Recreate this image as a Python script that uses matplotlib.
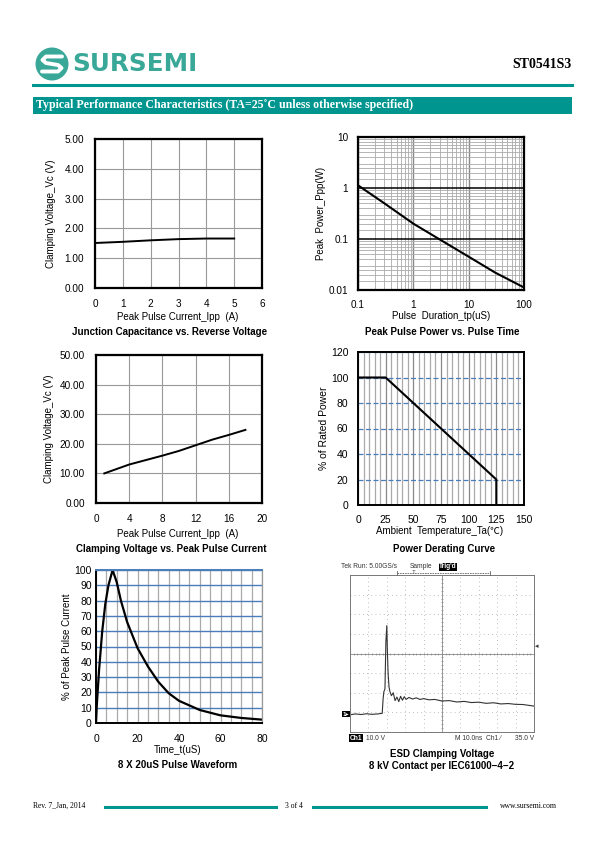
import matplotlib
matplotlib.use("Agg")
import matplotlib.pyplot as plt
from matplotlib.patches import Rectangle, Ellipse
from matplotlib.lines import Line2D
from matplotlib.ticker import FixedLocator, FixedFormatter, NullFormatter, LogLocator

plt.rcParams['font.family'] = ['Liberation Sans', 'Noto Sans CJK SC', 'DejaVu Sans']

# ---------------- data ----------------
c1_ipp = [0, 1, 2, 3, 4, 5]
c1_vc = [1.51, 1.55, 1.60, 1.64, 1.66, 1.66]
c1_xticks = [0, 1, 2, 3, 4, 5, 6]
c1_yticks = [0, 1, 2, 3, 4, 5]

c2_tp = [0.1, 0.3, 1, 3, 10, 30, 100]
c2_ppp = [1.13, 0.50, 0.20, 0.098, 0.045, 0.022, 0.0112]
c2_xticks = [0.1, 1, 10, 100]
c2_xlabels = ["0.1", "1", "10", "100"]
c2_yticks = [0.01, 0.1, 1, 10]
c2_ylabels = ["0.01", "0.1", "1", "10"]

c3_ipp = [1, 2, 4, 6, 8, 10, 12, 14, 16, 18]
c3_vc = [10.0, 11.0, 13.0, 14.5, 16.0, 17.6, 19.5, 21.4, 23.0, 24.7]
c3_xticks = [0, 4, 8, 12, 16, 20]
c3_yticks = [0, 10, 20, 30, 40, 50]

c4_ta = [0, 25, 125, 125]
c4_pct = [100, 100, 20, 0]
c4_xticks = [0, 25, 50, 75, 100, 125, 150]
c4_yticks = [0, 20, 40, 60, 80, 100, 120]

c5_t = [0, 0.4, 1.5, 3, 4.5, 6, 8, 10, 12, 15, 20, 25, 30, 35, 40, 50, 60, 70, 80]
c5_pct = [0, 12, 35, 60, 78, 90, 100, 92, 80, 66, 49, 37, 27, 19.5, 14.5, 8.5, 5.0, 3.3, 2.2]
c5_xticks = [0, 20, 40, 60, 80]
c5_yticks = [0, 10, 20, 30, 40, 50, 60, 70, 80, 90, 100]

scope_t = [0, 0.3, 0.6, 0.9, 1.2, 1.5, 1.75, 1.8, 1.84, 1.9, 1.95, 2.0, 2.03, 2.07, 2.12, 2.17,
           2.25, 2.35, 2.45, 2.55, 2.65, 2.75, 2.85, 2.95, 3.05, 3.2, 3.4, 3.6, 3.8, 4.0,
           4.3, 4.6, 5.0, 5.4, 5.8, 6.2, 6.6, 7.0, 7.4, 7.8, 8.2, 8.6, 9.0, 9.4, 9.7, 10.0]
scope_v = [0.88, 0.92, 0.89, 0.93, 0.9, 0.92, 0.95, 1.7, 2.05, 2.2, 4.6, 5.42, 4.2, 3.0, 2.3, 2.06,
           1.85, 2.0, 1.6, 1.78, 1.55, 1.82, 1.62, 1.8, 1.66, 1.76, 1.68, 1.74, 1.66, 1.7,
           1.64, 1.66, 1.58, 1.6, 1.53, 1.56, 1.5, 1.52, 1.46, 1.49, 1.43, 1.45, 1.41, 1.40, 1.36, 1.32]

TEAL = "#00968f"
LOGO = "#3aa898"
BLUE = "#4a7ebb"

W, H = 595, 842
fig = plt.figure(figsize=(W / 100, H / 100), dpi=100)


def ax_px(l, t, r, b):
    return fig.add_axes([l / W, 1 - b / H, (r - l) / W, (b - t) / H])


def txt(x, y, s, **kw):
    kw.setdefault("va", "center")
    return fig.text(x / W, 1 - y / H, s, **kw)


def fx(x):
    return x / W


def fy(y):
    return 1 - y / H


# ---------------- header ----------------
fig.add_artist(Ellipse((fx(52), fy(64)), 33 / W, 33 / H, transform=fig.transFigure,
                       facecolor=LOGO, edgecolor="none"))
# stylised S in logo
sx = [62, 46, 42.5, 46, 58, 61.5, 58, 42]
sy = [56.5, 56.5, 60, 63, 65, 68, 71.5, 71.5]
fig.add_artist(Line2D([fx(v) for v in sx], [fy(v) for v in sy], transform=fig.transFigure,
                      color="white", lw=2.8, solid_capstyle="round", solid_joinstyle="round"))
txt(72, 64, "SURSEMI", ha="left", fontsize=17.8, fontweight="bold", color=LOGO,
    family=["DejaVu Sans"])
txt(572, 64, "ST0541S3", ha="right", fontsize=10, fontweight="bold",
    family=["Liberation Serif"], color="black")
fig.add_artist(Line2D([fx(33), fx(572)], [fy(85), fy(85)], transform=fig.transFigure,
                      color=TEAL, lw=2.2))
fig.add_artist(Rectangle((fx(33), fy(113.5)), (572 - 33) / W, 17 / H, transform=fig.transFigure,
                         facecolor=TEAL, edgecolor="none"))
txt(36, 105, "Typical Performance Characteristics (TA=25\u02daC unless otherwise specified)",
    ha="left", fontsize=8.6, fontweight="bold", family=["Liberation Serif", "DejaVu Serif"],
    color="white")

# ---------------- footer ----------------
txt(33, 806, "Rev. 7_Jan, 2014", ha="left", fontsize=5.5, family=["Liberation Serif"])
txt(294, 806, "3 of 4", ha="center", fontsize=5.5, family=["Liberation Serif"])
txt(557, 806, "www.sursemi.com", ha="right", fontsize=5.5, family=["Liberation Serif"])
for a, b in [(105, 276), (313, 486)]:
    fig.add_artist(Line2D([fx(a), fx(b)], [fy(807), fy(807)], transform=fig.transFigure,
                          color=TEAL, lw=2.2))

TICK_FS = 7.2


def style_frame(ax, lw=1.6, color="black", pad=7):
    for s in ax.spines.values():
        s.set_linewidth(lw)
        s.set_color(color)
    ax.tick_params(length=0, labelsize=TICK_FS, pad=pad)
    ax.set_axisbelow(True)


# ---------------- chart 1 ----------------
ax1 = ax_px(95, 139, 262, 288)
ax1.plot(c1_ipp, c1_vc, color="black", lw=1.4)
ax1.set_xlim(0, 6)
ax1.set_ylim(0, 5)
ax1.set_xticks(c1_xticks)
ax1.set_yticks(c1_yticks)
ax1.set_yticklabels([f"{v:.2f}" for v in c1_yticks])
ax1.grid(True, color="#999999", lw=0.8)
style_frame(ax1, pad=8)
ax1.set_ylabel("Clamping Voltage_Vc (V)", fontsize=7, labelpad=6)
txt(178, 317, "Peak Pulse Current_Ipp  (A)", ha="center", fontsize=7)
txt(170, 332, "Junction Capacitance vs. Reverse Voltage", ha="center", fontsize=7, fontweight="bold")

# ---------------- chart 2 ----------------
ax2 = ax_px(358, 137, 524, 290)
ax2.set_xscale("log")
ax2.set_yscale("log")
ax2.plot(c2_tp, c2_ppp, color="black", lw=1.5)
ax2.set_xlim(0.1, 100)
ax2.set_ylim(0.01, 10)
ax2.xaxis.set_major_locator(FixedLocator(c2_xticks))
ax2.xaxis.set_major_formatter(FixedFormatter(c2_xlabels))
ax2.yaxis.set_major_locator(FixedLocator(c2_yticks))
ax2.yaxis.set_major_formatter(FixedFormatter(c2_ylabels))
ax2.xaxis.set_minor_locator(LogLocator(base=10, subs=[2, 3, 4, 5, 6, 7, 8, 9]))
ax2.yaxis.set_minor_locator(LogLocator(base=10, subs=[1.5, 2, 2.5, 3, 4, 5, 6, 7, 8, 9]))
ax2.xaxis.set_minor_formatter(NullFormatter())
ax2.yaxis.set_minor_formatter(NullFormatter())
ax2.grid(True, which="minor", color="#aaaaaa", lw=0.6)
ax2.grid(True, which="major", axis="x", color="#888888", lw=1.0)
ax2.grid(True, which="major", axis="y", color="black", lw=1.1)
style_frame(ax2, pad=7)
ax2.tick_params(which="minor", length=0)
ax2.set_ylabel("Peak  Power_Ppp(W)", fontsize=7, labelpad=2)
txt(441, 316, "Pulse  Duration_tp(uS)", ha="center", fontsize=7)
txt(442, 332, "Peak Pulse Power vs. Pulse Time", ha="center", fontsize=7, fontweight="bold")

# ---------------- chart 3 ----------------
ax3 = ax_px(96, 355, 262, 503)
ax3.plot(c3_ipp, c3_vc, color="black", lw=1.4)
ax3.set_xlim(0, 20)
ax3.set_ylim(0, 50)
ax3.set_xticks(c3_xticks)
ax3.set_yticks(c3_yticks)
ax3.set_yticklabels([f"{v:.2f}" for v in c3_yticks])
ax3.grid(True, color="#999999", lw=0.8)
style_frame(ax3, pad=8)
ax3.set_ylabel("Clamping Voltage_Vc (V)", fontsize=7, labelpad=4)
txt(178, 534, "Peak Pulse Current_Ipp  (A)", ha="center", fontsize=7)
txt(171, 549, "Clamping Voltage vs. Peak Pulse Current", ha="center", fontsize=7, fontweight="bold")

# ---------------- chart 4 ----------------
ax4 = ax_px(358, 352, 524, 505)
ax4.plot(c4_ta, c4_pct, color="black", lw=1.5)
ax4.set_xlim(0, 150)
ax4.set_ylim(0, 120)
ax4.set_xticks(c4_xticks)
ax4.set_yticks(c4_yticks)
ax4.xaxis.set_minor_locator(FixedLocator(list(range(5, 150, 5))))
ax4.grid(True, which="minor", axis="x", color="#aaaaaa", lw=0.9)
ax4.grid(True, which="major", axis="x", color="#888888", lw=0.9)
ax4.grid(True, which="major", axis="y", color=BLUE, lw=0.9, ls=(0, (4, 2)))
style_frame(ax4, lw=1.4)
ax4.tick_params(which="both", length=0, labelsize=7.5)
ax4.set_ylabel("% of Rated Power", fontsize=7.5, labelpad=1)
txt(440, 531, "Ambient  Temperature_Ta(\u2103)", ha="center", fontsize=7)
txt(444, 549, "Power Derating Curve", ha="center", fontsize=7, fontweight="bold")

# ---------------- chart 5 ----------------
ax5 = ax_px(96, 570, 262, 723)
ax5.plot(c5_t, c5_pct, color="black", lw=1.6)
ax5.set_xlim(0, 80)
ax5.set_ylim(0, 100)
ax5.set_xticks(c5_xticks)
ax5.set_yticks(c5_yticks)
ax5.xaxis.set_minor_locator(FixedLocator(list(range(5, 80, 5))))
ax5.grid(True, which="both", axis="x", color="#aaaaaa", lw=0.9)
ax5.grid(True, which="major", axis="y", color=BLUE, lw=1.0)
style_frame(ax5, lw=1.4)
ax5.spines["top"].set_color(BLUE)
ax5.spines["right"].set_color("#999999")
ax5.spines["right"].set_linewidth(0.9)
ax5.tick_params(which="both", length=0, labelsize=7.5)
ax5.tick_params(axis="y", pad=3)
ax5.tick_params(axis="x", pad=8)
ax5.set_ylabel("% of Peak Pulse Current", fontsize=7, labelpad=2)
txt(178, 750, "Time_t(uS)", ha="center", fontsize=7)
txt(178, 765, "8 X 20uS Pulse Waveform", ha="center", fontsize=7, fontweight="bold")

# ---------------- chart 6 (scope) ----------------
ax6 = ax_px(350, 575, 534, 732)
ax6.set_xlim(0, 10)
ax6.set_ylim(0, 8)
ax6.set_xticks([])
ax6.set_yticks([])
for s in ax6.spines.values():
    s.set_color("#777777")
    s.set_linewidth(0.7)
for gx in range(1, 10):
    if gx != 5:
        ax6.axvline(gx, color="#aaaaaa", lw=0.6, ls=(0, (1, 4)))
for gy in range(1, 8):
    if gy != 4:
        ax6.axhline(gy, color="#aaaaaa", lw=0.6, ls=(0, (1, 4)))
ax6.axvline(5, color="#888888", lw=0.6)
ax6.axhline(4, color="#888888", lw=0.6)
ticks_x = [i * 0.2 for i in range(1, 50)]
ticks_y = [i * 0.2 for i in range(1, 40)]
ax6.plot(ticks_x, [4] * len(ticks_x), ls="none", marker="|", ms=2, color="#888888", mew=0.5)
ax6.plot([5] * len(ticks_y), ticks_y, ls="none", marker="_", ms=2, color="#888888", mew=0.5)
ax6.plot(scope_t, scope_v, color="#333333", lw=0.8)

txt(341, 567, "Tek Run: 5.00GS/s", ha="left", fontsize=4.8, color="#333333")
txt(410, 567, "Sample", ha="left", fontsize=4.8, color="#333333")
txt(448, 567, "Trig'd", ha="center", fontsize=4.8, color="white", fontweight="bold",
    bbox=dict(boxstyle="square,pad=0.1", facecolor="black", edgecolor="none"))
fig.add_artist(Line2D([fx(397), fx(490)], [fy(573), fy(573)], transform=fig.transFigure,
                      color="#666666", lw=0.6, ls=(0, (2, 1))))
for xx in (397, 490):
    fig.add_artist(Line2D([fx(xx), fx(xx)], [fy(571), fy(575)], transform=fig.transFigure,
                          color="#666666", lw=0.6))
txt(414, 573, "T", ha="center", fontsize=4.5, color="#555555")
txt(346, 714, "1\u25b8", ha="center", fontsize=4.5, color="white", fontweight="bold",
    bbox=dict(boxstyle="square,pad=0.1", facecolor="black", edgecolor="none"))
txt(537, 647, "\u25c2", ha="center", fontsize=5, color="#333333")
txt(356, 738, "Ch1", ha="center", fontsize=4.8, color="white", fontweight="bold",
    bbox=dict(boxstyle="square,pad=0.1", facecolor="black", edgecolor="none"))
txt(366, 738, "10.0 V", ha="left", fontsize=4.8, color="#333333")
txt(455, 738, "M 10.0ns  Ch1 \u2215", ha="left", fontsize=4.8, color="#333333")
txt(534, 738, "35.0 V", ha="right", fontsize=4.8, color="#333333")
txt(442, 754, "ESD Clamping Voltage", ha="center", fontsize=7, fontweight="bold")
txt(442, 766, "8 kV Contact per IEC61000\u22124\u22122", ha="center", fontsize=7, fontweight="bold")

fig.savefig("out.png", dpi=100)
